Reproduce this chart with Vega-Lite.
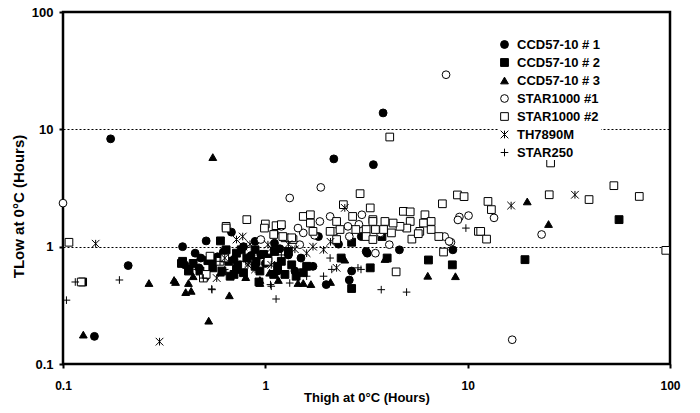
{
  "$schema": "https://vega.github.io/schema/vega-lite/v6.json",
  "width": 607,
  "height": 352,
  "autosize": {"type": "none"},
  "padding": {"left": 63, "top": 12, "right": 30, "bottom": 49},
  "background": "white",
  "datasets": {
    "pts": [
      {"series": "CCD57-10 # 1", "x": 0.172, "y": 8.3},
      {"series": "CCD57-10 # 1", "x": 0.143, "y": 0.172},
      {"series": "CCD57-10 # 1", "x": 0.21, "y": 0.69},
      {"series": "CCD57-10 # 1", "x": 0.39, "y": 1.0},
      {"series": "CCD57-10 # 1", "x": 0.51, "y": 1.12},
      {"series": "CCD57-10 # 1", "x": 0.68, "y": 1.33},
      {"series": "CCD57-10 # 1", "x": 0.48, "y": 0.80},
      {"series": "CCD57-10 # 1", "x": 0.89, "y": 1.11},
      {"series": "CCD57-10 # 1", "x": 1.11, "y": 1.07},
      {"series": "CCD57-10 # 1", "x": 1.83, "y": 1.22},
      {"series": "CCD57-10 # 1", "x": 2.98, "y": 1.22},
      {"series": "CCD57-10 # 1", "x": 3.15, "y": 0.91},
      {"series": "CCD57-10 # 1", "x": 3.19, "y": 0.88},
      {"series": "CCD57-10 # 1", "x": 1.72, "y": 0.68},
      {"series": "CCD57-10 # 1", "x": 2.67, "y": 0.62},
      {"series": "CCD57-10 # 1", "x": 2.0, "y": 0.475},
      {"series": "CCD57-10 # 1", "x": 2.6, "y": 0.52},
      {"series": "CCD57-10 # 1", "x": 3.82, "y": 13.8},
      {"series": "CCD57-10 # 1", "x": 2.18, "y": 5.6},
      {"series": "CCD57-10 # 1", "x": 3.42, "y": 5.0},
      {"series": "CCD57-10 # 1", "x": 4.6, "y": 0.94},
      {"series": "CCD57-10 # 1", "x": 8.45, "y": 0.94},
      {"series": "CCD57-10 # 1", "x": 1.3, "y": 0.85},
      {"series": "CCD57-10 # 1", "x": 0.95, "y": 0.85},
      {"series": "CCD57-10 # 1", "x": 1.5, "y": 0.80},
      {"series": "CCD57-10 # 1", "x": 0.62, "y": 0.90},
      {"series": "CCD57-10 # 1", "x": 0.78, "y": 1.0},
      {"series": "CCD57-10 # 1", "x": 2.3, "y": 1.05},
      {"series": "CCD57-10 # 1", "x": 1.15, "y": 0.62},
      {"series": "CCD57-10 # 1", "x": 0.47, "y": 0.66},
      {"series": "CCD57-10 # 1", "x": 0.55, "y": 0.72},
      {"series": "CCD57-10 # 1", "x": 0.40, "y": 0.70},
      {"series": "CCD57-10 # 1", "x": 0.70, "y": 0.78},
      {"series": "CCD57-10 # 1", "x": 1.0, "y": 0.72},
      {"series": "CCD57-10 # 1", "x": 1.4, "y": 0.62},
      {"series": "CCD57-10 # 1", "x": 0.58, "y": 0.82},
      {"series": "CCD57-10 # 1", "x": 0.85, "y": 0.84},
      {"series": "CCD57-10 # 1", "x": 1.18, "y": 0.96},
      {"series": "CCD57-10 # 1", "x": 0.45, "y": 0.88},
      {"series": "CCD57-10 # 2", "x": 0.125, "y": 0.5},
      {"series": "CCD57-10 # 2", "x": 0.39, "y": 0.75},
      {"series": "CCD57-10 # 2", "x": 0.44, "y": 0.72},
      {"series": "CCD57-10 # 2", "x": 0.417, "y": 0.62},
      {"series": "CCD57-10 # 2", "x": 0.475, "y": 0.62},
      {"series": "CCD57-10 # 2", "x": 0.60, "y": 1.12},
      {"series": "CCD57-10 # 2", "x": 0.64, "y": 0.94},
      {"series": "CCD57-10 # 2", "x": 0.72, "y": 0.88},
      {"series": "CCD57-10 # 2", "x": 0.89, "y": 0.94},
      {"series": "CCD57-10 # 2", "x": 0.89, "y": 0.68},
      {"series": "CCD57-10 # 2", "x": 0.72, "y": 0.64},
      {"series": "CCD57-10 # 2", "x": 0.67, "y": 0.56},
      {"series": "CCD57-10 # 2", "x": 1.10, "y": 0.58},
      {"series": "CCD57-10 # 2", "x": 0.385, "y": 0.72},
      {"series": "CCD57-10 # 2", "x": 0.42, "y": 0.64},
      {"series": "CCD57-10 # 2", "x": 0.55, "y": 0.66},
      {"series": "CCD57-10 # 2", "x": 0.61, "y": 0.62},
      {"series": "CCD57-10 # 2", "x": 0.66, "y": 0.75},
      {"series": "CCD57-10 # 2", "x": 0.70, "y": 0.58},
      {"series": "CCD57-10 # 2", "x": 0.73, "y": 0.70},
      {"series": "CCD57-10 # 2", "x": 0.76, "y": 0.94},
      {"series": "CCD57-10 # 2", "x": 0.81, "y": 0.80},
      {"series": "CCD57-10 # 2", "x": 0.90, "y": 0.75},
      {"series": "CCD57-10 # 2", "x": 0.94, "y": 0.62},
      {"series": "CCD57-10 # 2", "x": 1.03, "y": 0.80},
      {"series": "CCD57-10 # 2", "x": 1.11, "y": 0.91},
      {"series": "CCD57-10 # 2", "x": 1.2, "y": 0.75},
      {"series": "CCD57-10 # 2", "x": 1.35, "y": 0.70},
      {"series": "CCD57-10 # 2", "x": 1.25, "y": 0.58},
      {"series": "CCD57-10 # 2", "x": 1.42, "y": 0.56},
      {"series": "CCD57-10 # 2", "x": 1.30, "y": 0.91},
      {"series": "CCD57-10 # 2", "x": 1.54, "y": 0.60},
      {"series": "CCD57-10 # 2", "x": 0.93, "y": 0.50},
      {"series": "CCD57-10 # 2", "x": 2.67, "y": 1.09},
      {"series": "CCD57-10 # 2", "x": 3.3, "y": 0.66},
      {"series": "CCD57-10 # 2", "x": 2.67, "y": 0.44},
      {"series": "CCD57-10 # 2", "x": 2.37, "y": 0.80},
      {"series": "CCD57-10 # 2", "x": 4.0, "y": 0.80},
      {"series": "CCD57-10 # 2", "x": 6.4, "y": 0.77},
      {"series": "CCD57-10 # 2", "x": 8.4, "y": 0.70},
      {"series": "CCD57-10 # 2", "x": 19.2, "y": 0.775},
      {"series": "CCD57-10 # 2", "x": 56.0, "y": 1.70},
      {"series": "CCD57-10 # 2", "x": 3.77, "y": 1.22},
      {"series": "CCD57-10 # 2", "x": 0.50, "y": 0.56},
      {"series": "CCD57-10 # 2", "x": 1.6, "y": 0.68},
      {"series": "CCD57-10 # 2", "x": 0.52, "y": 0.76},
      {"series": "CCD57-10 # 2", "x": 0.98, "y": 0.86},
      {"series": "CCD57-10 # 2", "x": 1.15, "y": 0.68},
      {"series": "CCD57-10 # 2", "x": 0.78, "y": 0.60},
      {"series": "CCD57-10 # 3", "x": 0.55, "y": 5.8},
      {"series": "CCD57-10 # 3", "x": 0.126, "y": 0.178},
      {"series": "CCD57-10 # 3", "x": 0.266, "y": 0.49},
      {"series": "CCD57-10 # 3", "x": 0.354, "y": 0.52},
      {"series": "CCD57-10 # 3", "x": 0.404, "y": 0.41},
      {"series": "CCD57-10 # 3", "x": 0.417, "y": 0.49},
      {"series": "CCD57-10 # 3", "x": 0.44, "y": 0.56},
      {"series": "CCD57-10 # 3", "x": 0.664, "y": 0.385},
      {"series": "CCD57-10 # 3", "x": 0.525, "y": 0.234},
      {"series": "CCD57-10 # 3", "x": 0.36, "y": 0.50},
      {"series": "CCD57-10 # 3", "x": 0.43, "y": 0.42},
      {"series": "CCD57-10 # 3", "x": 0.94, "y": 0.52},
      {"series": "CCD57-10 # 3", "x": 0.94, "y": 0.49},
      {"series": "CCD57-10 # 3", "x": 1.16, "y": 0.52},
      {"series": "CCD57-10 # 3", "x": 1.45, "y": 0.49},
      {"series": "CCD57-10 # 3", "x": 1.68, "y": 0.48},
      {"series": "CCD57-10 # 3", "x": 1.54, "y": 0.49},
      {"series": "CCD57-10 # 3", "x": 2.47, "y": 0.775},
      {"series": "CCD57-10 # 3", "x": 3.9, "y": 0.785},
      {"series": "CCD57-10 # 3", "x": 6.35, "y": 0.565},
      {"series": "CCD57-10 # 3", "x": 8.7, "y": 0.56},
      {"series": "CCD57-10 # 3", "x": 19.7, "y": 2.43},
      {"series": "CCD57-10 # 3", "x": 25.1, "y": 1.56},
      {"series": "CCD57-10 # 3", "x": 0.80, "y": 0.55},
      {"series": "CCD57-10 # 3", "x": 1.05, "y": 0.60},
      {"series": "CCD57-10 # 3", "x": 0.60, "y": 0.60},
      {"series": "CCD57-10 # 3", "x": 2.1, "y": 0.50},
      {"series": "STAR1000 #1", "x": 0.1, "y": 2.35},
      {"series": "STAR1000 #1", "x": 1.32, "y": 2.6},
      {"series": "STAR1000 #1", "x": 1.88, "y": 3.2},
      {"series": "STAR1000 #1", "x": 1.86, "y": 1.64},
      {"series": "STAR1000 #1", "x": 2.09, "y": 1.81},
      {"series": "STAR1000 #1", "x": 3.0, "y": 1.87},
      {"series": "STAR1000 #1", "x": 2.56, "y": 1.49},
      {"series": "STAR1000 #1", "x": 1.11, "y": 1.31},
      {"series": "STAR1000 #1", "x": 1.54, "y": 1.31},
      {"series": "STAR1000 #1", "x": 2.6, "y": 1.22},
      {"series": "STAR1000 #1", "x": 1.48, "y": 1.04},
      {"series": "STAR1000 #1", "x": 3.5, "y": 0.88},
      {"series": "STAR1000 #1", "x": 9.1, "y": 1.79},
      {"series": "STAR1000 #1", "x": 10.1, "y": 1.84},
      {"series": "STAR1000 #1", "x": 8.95, "y": 1.69},
      {"series": "STAR1000 #1", "x": 8.27, "y": 1.09},
      {"series": "STAR1000 #1", "x": 3.7, "y": 1.31},
      {"series": "STAR1000 #1", "x": 4.1, "y": 1.04},
      {"series": "STAR1000 #1", "x": 7.7, "y": 1.22},
      {"series": "STAR1000 #1", "x": 8.1, "y": 1.11},
      {"series": "STAR1000 #1", "x": 7.82, "y": 29.2},
      {"series": "STAR1000 #1", "x": 13.5, "y": 1.76},
      {"series": "STAR1000 #1", "x": 23.2, "y": 1.27},
      {"series": "STAR1000 #1", "x": 16.6, "y": 0.161},
      {"series": "STAR1000 #1", "x": 1.2, "y": 1.49},
      {"series": "STAR1000 #1", "x": 1.45, "y": 1.44},
      {"series": "STAR1000 #1", "x": 2.2, "y": 1.35},
      {"series": "STAR1000 #1", "x": 2.9, "y": 1.55},
      {"series": "STAR1000 #1", "x": 1.75, "y": 1.25},
      {"series": "STAR1000 #1", "x": 0.95, "y": 1.15},
      {"series": "STAR1000 #2", "x": 0.107, "y": 1.09},
      {"series": "STAR1000 #2", "x": 0.123, "y": 0.50},
      {"series": "STAR1000 #2", "x": 0.64, "y": 1.49},
      {"series": "STAR1000 #2", "x": 0.81, "y": 1.70},
      {"series": "STAR1000 #2", "x": 1.0, "y": 1.56},
      {"series": "STAR1000 #2", "x": 1.13, "y": 1.51},
      {"series": "STAR1000 #2", "x": 1.10, "y": 1.27},
      {"series": "STAR1000 #2", "x": 0.533, "y": 0.83},
      {"series": "STAR1000 #2", "x": 0.597, "y": 0.75},
      {"series": "STAR1000 #2", "x": 0.494, "y": 0.54},
      {"series": "STAR1000 #2", "x": 2.94, "y": 2.83},
      {"series": "STAR1000 #2", "x": 2.43, "y": 2.28},
      {"series": "STAR1000 #2", "x": 3.3, "y": 2.14},
      {"series": "STAR1000 #2", "x": 1.54, "y": 1.81},
      {"series": "STAR1000 #2", "x": 1.67, "y": 1.87},
      {"series": "STAR1000 #2", "x": 1.67, "y": 1.59},
      {"series": "STAR1000 #2", "x": 2.25, "y": 1.64},
      {"series": "STAR1000 #2", "x": 2.7, "y": 1.81},
      {"series": "STAR1000 #2", "x": 3.4, "y": 1.70},
      {"series": "STAR1000 #2", "x": 2.34, "y": 1.40},
      {"series": "STAR1000 #2", "x": 2.8, "y": 1.40},
      {"series": "STAR1000 #2", "x": 3.15, "y": 1.40},
      {"series": "STAR1000 #2", "x": 3.5, "y": 1.40},
      {"series": "STAR1000 #2", "x": 1.2, "y": 1.54},
      {"series": "STAR1000 #2", "x": 1.25, "y": 1.19},
      {"series": "STAR1000 #2", "x": 1.37, "y": 1.15},
      {"series": "STAR1000 #2", "x": 1.72, "y": 1.35},
      {"series": "STAR1000 #2", "x": 2.09, "y": 1.35},
      {"series": "STAR1000 #2", "x": 2.25, "y": 1.15},
      {"series": "STAR1000 #2", "x": 3.15, "y": 1.22},
      {"series": "STAR1000 #2", "x": 4.12, "y": 8.6},
      {"series": "STAR1000 #2", "x": 7.5, "y": 2.32},
      {"series": "STAR1000 #2", "x": 8.9, "y": 2.76},
      {"series": "STAR1000 #2", "x": 9.6, "y": 2.67},
      {"series": "STAR1000 #2", "x": 11.3, "y": 1.35},
      {"series": "STAR1000 #2", "x": 7.6, "y": 0.90},
      {"series": "STAR1000 #2", "x": 4.43, "y": 0.61},
      {"series": "STAR1000 #2", "x": 4.81, "y": 2.0},
      {"series": "STAR1000 #2", "x": 5.2, "y": 1.98},
      {"series": "STAR1000 #2", "x": 6.15, "y": 1.87},
      {"series": "STAR1000 #2", "x": 6.05, "y": 1.59},
      {"series": "STAR1000 #2", "x": 6.6, "y": 1.64},
      {"series": "STAR1000 #2", "x": 5.8, "y": 1.35},
      {"series": "STAR1000 #2", "x": 6.6, "y": 1.40},
      {"series": "STAR1000 #2", "x": 5.2, "y": 1.64},
      {"series": "STAR1000 #2", "x": 5.0, "y": 1.44},
      {"series": "STAR1000 #2", "x": 4.63, "y": 1.49},
      {"series": "STAR1000 #2", "x": 4.28, "y": 1.59},
      {"series": "STAR1000 #2", "x": 3.9, "y": 1.64},
      {"series": "STAR1000 #2", "x": 3.84, "y": 1.40},
      {"series": "STAR1000 #2", "x": 4.2, "y": 1.31},
      {"series": "STAR1000 #2", "x": 5.3, "y": 1.16},
      {"series": "STAR1000 #2", "x": 5.7, "y": 1.29},
      {"series": "STAR1000 #2", "x": 7.2, "y": 1.22},
      {"series": "STAR1000 #2", "x": 3.4, "y": 1.64},
      {"series": "STAR1000 #2", "x": 3.4, "y": 1.15},
      {"series": "STAR1000 #2", "x": 25.7, "y": 5.17},
      {"series": "STAR1000 #2", "x": 52.8, "y": 3.31},
      {"series": "STAR1000 #2", "x": 70.5, "y": 2.68},
      {"series": "STAR1000 #2", "x": 39.8, "y": 2.52},
      {"series": "STAR1000 #2", "x": 25.3, "y": 2.77},
      {"series": "STAR1000 #2", "x": 95.3, "y": 0.93},
      {"series": "STAR1000 #2", "x": 12.6, "y": 2.43},
      {"series": "STAR1000 #2", "x": 13.1, "y": 2.07},
      {"series": "STAR1000 #2", "x": 11.6, "y": 1.35},
      {"series": "STAR1000 #2", "x": 12.4, "y": 1.16},
      {"series": "STAR1000 #2", "x": 1.22, "y": 1.22},
      {"series": "STAR1000 #2", "x": 1.35, "y": 1.19},
      {"series": "STAR1000 #2", "x": 0.99, "y": 1.44},
      {"series": "STAR1000 #2", "x": 0.64, "y": 1.44},
      {"series": "STAR1000 #2", "x": 0.51, "y": 0.58},
      {"series": "STAR1000 #2", "x": 0.63, "y": 0.80},
      {"series": "STAR1000 #2", "x": 1.03, "y": 0.75},
      {"series": "TH7890M", "x": 0.145, "y": 1.06},
      {"series": "TH7890M", "x": 0.3, "y": 0.155},
      {"series": "TH7890M", "x": 0.773, "y": 1.22},
      {"series": "TH7890M", "x": 0.78, "y": 1.0},
      {"series": "TH7890M", "x": 0.84, "y": 1.05},
      {"series": "TH7890M", "x": 1.03, "y": 1.04},
      {"series": "TH7890M", "x": 0.83, "y": 0.73},
      {"series": "TH7890M", "x": 1.07, "y": 0.70},
      {"series": "TH7890M", "x": 0.575, "y": 0.54},
      {"series": "TH7890M", "x": 2.47, "y": 2.14},
      {"series": "TH7890M", "x": 1.72, "y": 1.0},
      {"series": "TH7890M", "x": 1.94, "y": 0.94},
      {"series": "TH7890M", "x": 1.6, "y": 0.88},
      {"series": "TH7890M", "x": 2.25, "y": 0.66},
      {"series": "TH7890M", "x": 0.72, "y": 1.15},
      {"series": "TH7890M", "x": 0.63, "y": 0.80},
      {"series": "TH7890M", "x": 0.82, "y": 0.70},
      {"series": "TH7890M", "x": 0.89, "y": 0.64},
      {"series": "TH7890M", "x": 1.07, "y": 0.97},
      {"series": "TH7890M", "x": 33.9, "y": 2.77},
      {"series": "TH7890M", "x": 16.4, "y": 2.24},
      {"series": "TH7890M", "x": 0.95, "y": 0.85},
      {"series": "TH7890M", "x": 1.3, "y": 1.05},
      {"series": "TH7890M", "x": 1.4, "y": 0.95},
      {"series": "TH7890M", "x": 2.1, "y": 1.1},
      {"series": "STAR250", "x": 0.115, "y": 0.5},
      {"series": "STAR250", "x": 0.19, "y": 0.52},
      {"series": "STAR250", "x": 0.104, "y": 0.35},
      {"series": "STAR250", "x": 0.545, "y": 0.43},
      {"series": "STAR250", "x": 1.13, "y": 0.358},
      {"series": "STAR250", "x": 1.06, "y": 0.475},
      {"series": "STAR250", "x": 0.543, "y": 0.436},
      {"series": "STAR250", "x": 0.62, "y": 0.62},
      {"series": "STAR250", "x": 0.597, "y": 0.75},
      {"series": "STAR250", "x": 0.494, "y": 0.54},
      {"series": "STAR250", "x": 2.09, "y": 0.80},
      {"series": "STAR250", "x": 2.13, "y": 0.64},
      {"series": "STAR250", "x": 2.87, "y": 0.66},
      {"series": "STAR250", "x": 2.97, "y": 0.64},
      {"series": "STAR250", "x": 1.94, "y": 0.56},
      {"series": "STAR250", "x": 1.32, "y": 0.49},
      {"series": "STAR250", "x": 1.6, "y": 0.56},
      {"series": "STAR250", "x": 3.74, "y": 0.43},
      {"series": "STAR250", "x": 4.99, "y": 0.41},
      {"series": "STAR250", "x": 9.8, "y": 1.44},
      {"series": "STAR250", "x": 1.07, "y": 0.46},
      {"series": "STAR250", "x": 0.63, "y": 0.64},
      {"series": "STAR250", "x": 0.46, "y": 0.64},
      {"series": "STAR250", "x": 1.35, "y": 0.70},
      {"series": "STAR250", "x": 0.80, "y": 0.75},
      {"series": "STAR250", "x": 1.2, "y": 0.85}
    ]
  },
  "data": {"name": "pts"},
  "mark": {"type": "point", "filled": true, "strokeWidth": 1, "opacity": 1},
  "encoding": {
    "x": {
      "field": "x", "type": "quantitative",
      "scale": {"type": "log", "domain": [0.1, 100], "nice": false},
      "axis": {
        "values": [0.1, 1, 10, 100], "format": "~g", "grid": false,
        "labelFontSize": 12, "labelPadding": 12, "labelFlush": false, "labelOverlap": false,
        "title": "Thigh at 0°C  (Hours)", "titleFontSize": 13, "titleY": 33, "titleBaseline": "middle"
      }
    },
    "y": {
      "field": "y", "type": "quantitative",
      "scale": {"type": "log", "domain": [0.1, 100], "nice": false},
      "axis": {
        "values": [0.1, 1, 10, 100], "format": "~g",
        "grid": true, "gridDash": [2, 2], "gridColor": "black", "gridWidth": 1, "gridOpacity": 1,
        "labelFontSize": 13, "labelPadding": 6, "labelFlush": false, "labelOverlap": false,
        "title": "TLow at 0°C (Hours)", "titleFontSize": 15, "titleX": -45, "titleY": 194,
        "titleAngle": 270, "titleAlign": "center", "titleBaseline": "middle"
      }
    },
    "shape": {
      "field": "series", "type": "nominal",
      "scale": {
        "domain": ["CCD57-10 # 1", "CCD57-10 # 2", "CCD57-10 # 3", "STAR1000 #1", "STAR1000 #2", "TH7890M", "STAR250"],
        "range": ["circle", "square", "triangle-up", "circle", "square", "M-1,-1L1,1M1,-1L-1,1M0,-1L0,1", "M-1,0L1,0M0,-1L0,1"]
      },
      "legend": {"title": null}
    },
    "fill": {
      "field": "series", "type": "nominal",
      "scale": {
        "domain": ["CCD57-10 # 1", "CCD57-10 # 2", "CCD57-10 # 3", "STAR1000 #1", "STAR1000 #2", "TH7890M", "STAR250"],
        "range": ["black", "black", "black", "white", "white", "white", "white"]
      },
      "legend": {"title": null}
    },
    "stroke": {
      "field": "series", "type": "nominal",
      "scale": {
        "domain": ["CCD57-10 # 1", "CCD57-10 # 2", "CCD57-10 # 3", "STAR1000 #1", "STAR1000 #2", "TH7890M", "STAR250"],
        "range": ["black", "black", "black", "black", "black", "black", "black"]
      },
      "legend": {"title": null}
    },
    "size": {
      "field": "series", "type": "nominal",
      "scale": {
        "domain": ["CCD57-10 # 1", "CCD57-10 # 2", "CCD57-10 # 3", "STAR1000 #1", "STAR1000 #2", "TH7890M", "STAR250"],
        "range": [62, 58, 80, 55, 55, 64, 85]
      },
      "legend": {"title": null}
    }
  },
  "config": {
    "view": {"stroke": "black", "strokeWidth": 2.5},
    "font": "Liberation Sans",
    "axis": {
      "domain": false, "tickColor": "black", "tickWidth": 2, "tickSize": 4,
      "labelFont": "Liberation Sans", "labelFontWeight": "bold", "labelColor": "black",
      "titleFont": "Liberation Sans", "titleFontWeight": "bold", "titleColor": "black"
    },
    "legend": {
      "orient": "none", "legendX": 435, "legendY": 26, "padding": 0,
      "labelFont": "Liberation Sans", "labelFontSize": 13, "labelFontWeight": "bold", "labelColor": "black",
      "labelOffset": 6, "rowPadding": 4, "symbolStrokeWidth": 1,
      "fillColor": "white"
    }
  }
}
